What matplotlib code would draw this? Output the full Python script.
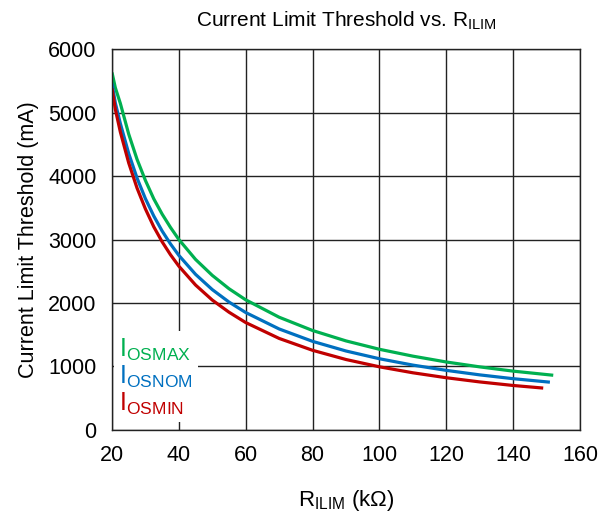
import matplotlib
matplotlib.use("Agg")
import matplotlib.pyplot as plt

plt.rcParams["font.family"] = ["Liberation Sans", "DejaVu Sans"]
plt.rcParams["mathtext.fontset"] = "custom"
plt.rcParams["mathtext.rm"] = "Liberation Sans"
plt.rcParams["mathtext.it"] = "Liberation Sans"

# values
r_max = [20, 21, 22.5, 25, 27.5, 30, 32.5, 35, 37.5, 40, 45, 50, 55, 60, 70, 80, 90, 100, 110, 120, 130, 140, 152]
i_max = [5630, 5390, 5143, 4660, 4262, 3930, 3640, 3400, 3190, 3000, 2686, 2435, 2225, 2050, 1776, 1567, 1403, 1271, 1163, 1071, 994, 927, 862]

r_nom = [20, 21, 22.5, 25, 27.5, 30, 32.5, 35, 37.5, 40, 45, 50, 55, 60, 70, 80, 90, 100, 110, 120, 130, 140, 151]
i_nom = [5460, 5150, 4827, 4355, 3967, 3643, 3370, 3134, 2930, 2750, 2451, 2211, 2015, 1850, 1591, 1396, 1244, 1122, 1022, 939, 868, 808, 753]

r_min = [20, 21, 22.5, 25, 27.5, 30, 32.5, 35, 37.5, 40, 45, 50, 55, 60, 70, 80, 90, 100, 110, 120, 130, 140, 149]
i_min = [5380, 5050, 4693, 4206, 3809, 3481, 3200, 2964, 2760, 2580, 2283, 2046, 1855, 1692, 1442, 1255, 1110, 995, 901, 823, 757, 701, 660]

labels = [r"I$_{\mathrm{OSMAX}}$", r"I$_{\mathrm{OSNOM}}$", r"I$_{\mathrm{OSMIN}}$"]
colors = ["#00B050", "#0070C0", "#C00000"]

fig = plt.figure(figsize=(6.14, 5.17), dpi=100)
ax = fig.add_axes([0.1824, 0.1683, 0.7622, 0.7369])

for r, i, lab, col in zip([r_max, r_nom, r_min], [i_max, i_nom, i_min], labels, colors):
    ax.plot(r, i, color=col, lw=2.3, label=lab, solid_capstyle="butt")

ax.set_xlim(20, 160)
ax.set_ylim(0, 6000)
ax.set_xticks(range(20, 161, 20))
ax.set_yticks(range(0, 6001, 1000))
ax.grid(True, color="#222222", lw=1.0)
ax.tick_params(length=0, labelsize=15.5, pad=11)
for s in ax.spines.values():
    s.set_color("#222222")
    s.set_linewidth(1.0)

ax.set_title(r"Current Limit Threshold vs. R$_{\mathrm{ILIM}}$", fontsize=15, pad=16)
ax.set_xlabel(r"R$_{\mathrm{ILIM}}$ (k$\Omega$)", fontsize=16, labelpad=16)
ax.set_ylabel("Current Limit Threshold (mA)", fontsize=15.5, labelpad=7)

leg = ax.legend(loc="lower left", bbox_to_anchor=(-0.012, 0.0), handlelength=0,
                handletextpad=0, fontsize=18, labelcolor="linecolor", frameon=True,
                fancybox=False, borderpad=0.2, labelspacing=0.05, borderaxespad=0.3)
leg.get_frame().set_edgecolor("none")
leg.get_frame().set_facecolor("white")
leg.get_frame().set_alpha(1.0)
for h in leg.legend_handles:
    h.set_visible(False)

fig.savefig("out.png", dpi=100)
